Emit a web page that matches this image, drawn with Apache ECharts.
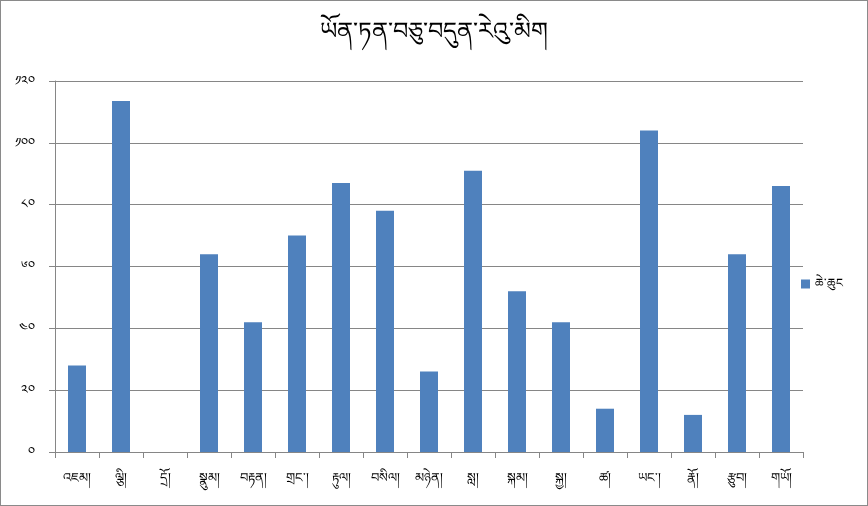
<!DOCTYPE html>
<html>
<head>
<meta charset="utf-8">
<script src="https://cdn.jsdelivr.net/npm/echarts@6/dist/echarts.min.js"></script>
<style>
  html, body { margin: 0; padding: 0; background: #fff; }
  #chart { width: 868px; height: 506px; box-sizing: border-box; border: 1px solid #8a8a8a; }
</style>
</head>
<body>
<div id="chart"></div>
<script>
// 图表数据
var titleText = 'ཡོན་ཏན་བཅུ་བདུན་རེའུ་མིག';
var seriesName = 'ཆེ་ཆུང';
var categories = ['འཇམ།', 'ལྕི།', 'དྲོ།', 'སྣུམ།', 'བརྟན།', 'གྲང་།', 'རྟུལ།', 'བསིལ།', 'མཉེན།',
  'སླ།', 'སྐམ།', 'སྐྱ།', 'ཚ།', 'ཡང་།', 'རྣོ།', 'རྩུབ།', 'གཡོ།'];
var values = [28, 113.5, 0, 64, 42, 70, 87, 78, 26, 91, 52, 42, 14, 104, 12, 64, 86];
var tibDigits = ['༠', '༡', '༢', '༣', '༤', '༥', '༦', '༧', '༨', '༩'];

// 阿拉伯数字转藏文数字
function toTib(n) {
  return String(n).split('').map(function (c) { return tibDigits[+c] || c }).join('');
}

var font = '"Noto Sans", "DejaVu Sans", sans-serif';
var chart = echarts.init(document.getElementById('chart'));
chart.setOption({
  animation: false,
  title: {
    text: titleText,
    left: 'center',
    top: 14,
    textStyle: { fontSize: 24, fontWeight: 'normal', color: '#000', fontFamily: font }
  },
  legend: {
    orient: 'vertical',
    left: 795,
    top: 272,
    itemWidth: 9,
    itemHeight: 9,
    itemGap: 4,
    icon: 'rect',
    textStyle: { fontSize: 12, color: '#000', fontFamily: font }
  },
  grid: { left: 54, right: 64, top: 80, bottom: 53, containLabel: false },
  xAxis: {
    type: 'category',
    data: categories,
    axisLine: { lineStyle: { color: '#868686', width: 1 } },
    axisTick: { show: true, length: 6, lineStyle: { color: '#868686' } },
    axisLabel: { margin: 20, fontSize: 13, color: '#000', fontFamily: font }
  },
  yAxis: {
    type: 'value',
    min: 0,
    max: 120,
    interval: 20,
    axisLine: { show: true, lineStyle: { color: '#868686', width: 1 } },
    axisTick: { show: true, length: 6, lineStyle: { color: '#868686' } },
    splitLine: { lineStyle: { color: '#868686', width: 1 } },
    axisLabel: { margin: 20, fontSize: 13, color: '#000', fontFamily: font, formatter: toTib }
  },
  series: [{
    name: seriesName,
    type: 'bar',
    data: values,
    barWidth: 18,
    itemStyle: { color: '#4F81BD' }
  }]
});
</script>
</body>
</html>
